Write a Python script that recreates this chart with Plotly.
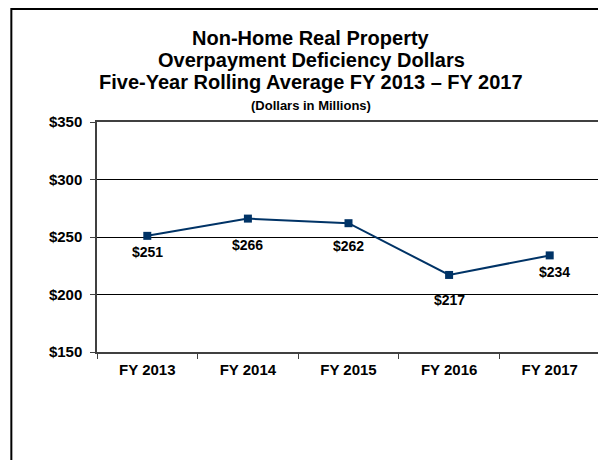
import plotly.graph_objects as go

categories = ["FY 2013", "FY 2014", "FY 2015", "FY 2016", "FY 2017"]
values = [251, 266, 262, 217, 234]
labels = ["$251", "$266", "$262", "$217", "$234"]
y_ticks = [150, 200, 250, 300, 350]
y_tick_labels = ["$150", "$200", "$250", "$300", "$350"]

title_lines = [
    "Non-Home Real Property",
    "Overpayment Deficiency Dollars",
    "Five-Year Rolling Average FY 2013 \u2013 FY 2017",
]
subtitle = "(Dollars in Millions)"

# label placement (style): pixel offsets below each point
label_dy = [-16, -26, -23, -25, -17]
label_dx = [0, 0, 0, 0, 5]

# page is offset by the 8px body margin
OFF = 8
W, H = 606 - OFF, 460 - OFF
ml, mr, mt, mb = 89, 4, 114, 108
pw, ph = W - ml - mr, H - mt - mb

def px_x(px):  # page px -> paper
    return (px - OFF - ml) / pw

def px_y(py):
    return (H - mb - (py - OFF)) / ph

navy = "#003366"
font_fam = "Arial, Liberation Sans, sans-serif"

fig = go.Figure()
fig.add_trace(go.Scatter(
    x=categories, y=values,
    mode="lines+markers",
    line=dict(color=navy, width=2),
    marker=dict(symbol="square", size=8, color=navy),
    hoverinfo="skip",
))

annotations = []
for c, v, t, dy, dx in zip(categories, values, labels, label_dy, label_dx):
    annotations.append(dict(
        text="<b>%s</b>" % t, x=c, y=v, xref="x", yref="y",
        showarrow=False, xanchor="center", yanchor="middle",
        xshift=dx, yshift=dy,
        font=dict(family=font_fam, size=14, color="black"),
    ))
for txt, ycen in zip(title_lines, [38, 60, 82]):
    annotations.append(dict(
        text="<b>%s</b>" % txt, x=px_x(312), y=px_y(ycen),
        xref="paper", yref="paper", showarrow=False, xanchor="center", yanchor="middle",
        font=dict(family=font_fam, size=20, color="black"),
    ))
annotations.append(dict(
    text="<b>%s</b>" % subtitle, x=px_x(312), y=px_y(105),
    xref="paper", yref="paper", showarrow=False, xanchor="center", yanchor="middle",
    font=dict(family=font_fam, size=13, color="black"),
))

fig.update_layout(
    width=W, height=H,
    margin=dict(l=ml, r=mr, t=mt, b=mb),
    paper_bgcolor="white", plot_bgcolor="white",
    showlegend=False,
    annotations=annotations,
    shapes=[dict(
        type="rect", xref="paper", yref="paper",
        x0=px_x(11), x1=px_x(640),
        y0=px_y(500), y1=px_y(9),
        line=dict(color="black", width=2), fillcolor="rgba(0,0,0,0)", layer="below",
    )],
    xaxis=dict(
        type="category", range=[-0.5, 4.5], tickson="boundaries", ticks="outside", ticklen=5,
        tickcolor="#404040", showline=True, linecolor="#404040", linewidth=2,
        mirror=True, showgrid=False, ticklabelstandoff=3,
        tickfont=dict(family=font_fam, size=15, color="black", weight="bold"),
    ),
    yaxis=dict(
        range=[150, 350], tickvals=y_ticks, ticktext=y_tick_labels,
        ticks="outside", ticklen=5, tickcolor="#404040",
        showline=True, linecolor="#404040", linewidth=1.5, mirror=True,
        showgrid=True, gridcolor="black", gridwidth=1, zeroline=False,
        ticklabelstandoff=5,
        tickfont=dict(family=font_fam, size=15, color="black", weight="bold"),
    ),
)

fig.write_html("out.html")
